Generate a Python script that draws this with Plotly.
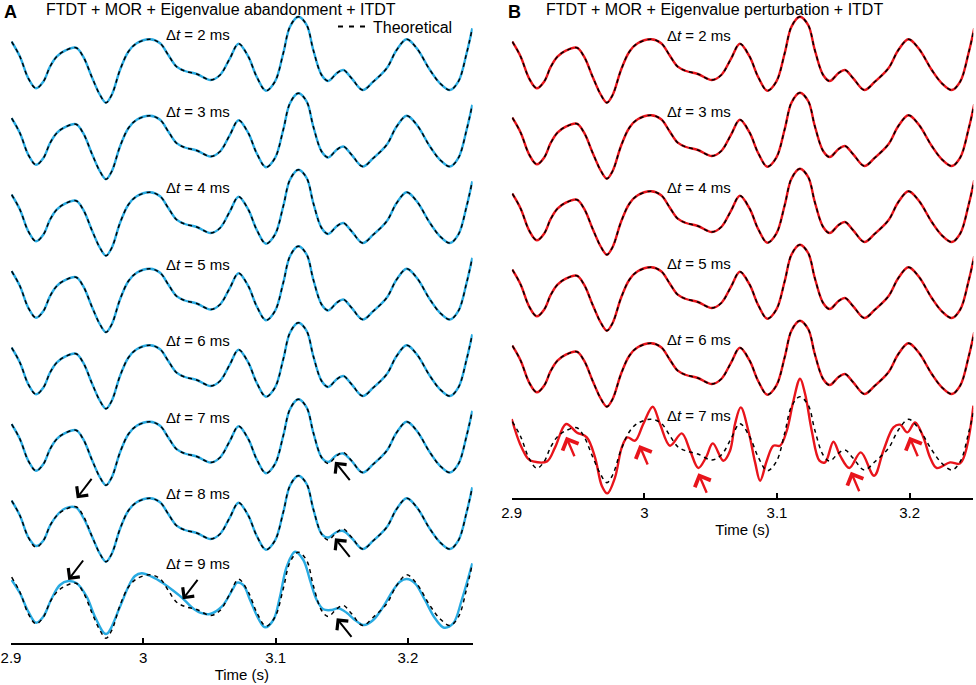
import plotly.graph_objects as go

# ---- data (time in s, signal in arbitrary units) ----
theo_t = [2.9005, 2.9068, 2.9131, 2.9189, 2.9244, 2.9295, 2.9345, 2.9408, 2.9491, 2.9546,
          2.9610, 2.9673, 2.9718, 2.9761, 2.9824, 2.9887, 2.9950, 3.0051, 3.0127, 3.0189,
          3.0252, 3.0315, 3.0404, 3.0509, 3.0580, 3.0655, 3.0720, 3.0794, 3.0857, 3.0927,
          3.0995, 3.1058, 3.1109, 3.1172, 3.1235, 3.1285, 3.1348, 3.1398, 3.1462, 3.1512,
          3.1575, 3.1658, 3.1738, 3.1840, 3.1915, 3.1991, 3.2067, 3.2167, 3.2243, 3.2318,
          3.2381, 3.2444, 3.2487]
theo_v = [1.83, 0.33, -1.83, -2.83, -2.17, -0.67, 0.33, 0.93, 1.23, 0.33,
          -1.67, -3.5, -4.27, -3.5, -1.0, 0.83, 1.67, 2.07, 1.67, 0.5,
          -0.67, -1.1, -1.4, -2.0, -1.5, 0.17, 1.63, 0.33, -1.67, -3.07,
          -2.17, 0.67, 3.33, 4.33, 3.5, 1.0, -1.5, -2.1, -1.33, -1.0,
          -1.83, -3.0, -2.17, -0.83, 1.0, 2.07, 1.17, -1.0, -2.33, -3.0,
          -2.17, 0.67, 3.17]

# eigenvalue abandonment, dt = 7 and 8 ms (same time grid as theoretical)
blue_7ms_v = [1.83, 0.33, -1.83, -2.83, -2.17, -0.67, 0.33, 0.93, 1.23, 0.33,
              -1.67, -3.5, -4.27, -3.5, -1.0, 0.83, 1.67, 2.07, 1.67, 0.5,
              -0.67, -1.1, -1.4, -2.0, -1.5, 0.17, 1.63, 0.33, -1.67, -3.07,
              -2.17, 0.67, 3.33, 4.33, 3.5, 1.0, -1.5, -1.95, -1.25, -1.1,
              -1.85, -3.0, -2.17, -0.83, 1.0, 2.07, 1.17, -1.0, -2.33, -3.0,
              -2.17, 0.67, 3.17]
blue_8ms_v = [1.83, 0.33, -1.83, -2.7, -2.17, -0.67, 0.33, 1.05, 1.15, 0.15,
              -1.67, -3.5, -4.27, -3.5, -1.0, 0.83, 1.67, 2.07, 1.67, 0.5,
              -0.67, -1.1, -1.4, -2.0, -1.5, 0.17, 1.63, 0.33, -1.67, -3.07,
              -2.17, 0.67, 3.33, 4.33, 3.5, 1.0, -1.5, -1.85, -1.3, -1.2,
              -1.9, -3.0, -2.17, -0.83, 1.0, 2.07, 1.17, -1.0, -2.33, -3.0,
              -2.17, 0.67, 3.17]

# eigenvalue abandonment, dt = 9 ms
blue_9ms_t = [2.9005, 2.9068, 2.9131, 2.9189, 2.9244, 2.9308, 2.9370, 2.9433, 2.9497, 2.9572,
              2.9635, 2.9718, 2.9824, 2.9887, 2.9937, 2.9988, 3.0064, 3.0151, 3.0227, 3.0298,
              3.0366, 3.0429, 3.0504, 3.0593, 3.0680, 3.0708, 3.0756, 3.0807, 3.0869, 3.0920,
              3.0983, 3.1033, 3.1084, 3.1147, 3.1210, 3.1260, 3.1311, 3.1361, 3.1424, 3.1474,
              3.1537, 3.1600, 3.1668, 3.1738, 3.1814, 3.1890, 3.1940, 3.1991, 3.2054, 3.2129,
              3.2205, 3.2273, 3.2343, 3.2407, 3.2487]
blue_9ms_v = [1.55, 0.22, -1.62, -2.72, -2.12, -0.28, 1.05, 1.45, 1.22, -0.12,
              -2.12, -3.85, -1.12, 0.88, 1.95, 2.22, 1.88, 1.22, 0.48, -0.28,
              -1.18, -1.72, -1.85, -1.12, 0.72, 1.28, 1.05, -0.45, -2.28, -3.18,
              -2.45, -0.12, 2.88, 4.38, 3.55, 1.55, -0.45, -1.38, -1.45, -1.28,
              -1.72, -2.45, -2.95, -2.45, -1.12, 0.55, 1.38, 1.65, 1.22, -0.45,
              -2.28, -3.22, -2.78, -0.45, 3.22]

# eigenvalue perturbation, dt = 7 ms
red_7ms_t = [2.9000, 2.9063, 2.9125, 2.9161, 2.9266, 2.9327, 2.9410, 2.9490, 2.9566, 2.9628,
             2.9679, 2.9721, 2.9779, 2.9830, 2.9872, 2.9930, 2.9992, 3.0063, 3.0118, 3.0194,
             3.0282, 3.0345, 3.0407, 3.0465, 3.0516, 3.0596, 3.0646, 3.0684, 3.0727, 3.0784,
             3.0835, 3.0873, 3.0923, 3.0973, 3.1023, 3.1074, 3.1124, 3.1174, 3.1212, 3.1262,
             3.1320, 3.1363, 3.1425, 3.1476, 3.1546, 3.1632, 3.1732, 3.1802, 3.1878, 3.1928,
             3.1983, 3.2041, 3.2104, 3.2154, 3.2205, 3.2305, 3.2381, 3.2481]
red_7ms_v = [2.1, -0.4, -1.9, -2.14, -2.14, -0.74, 1.6, 0.76, 0.26, -1.74,
             -4.57, -5.34, -3.74, -0.74, 0.26, -0.07, 1.6, 3.33, 1.6, -0.57,
             0.66, -1.07, -2.8, -1.74, -0.34, -2.07, -1.07, 1.63, 3.26, 0.93,
             -2.24, -4.07, -2.07, -0.57, -0.57, 0.93, 3.93, 6.13, 4.6, 0.93,
             -2.07, -2.24, -0.17, -1.57, -2.8, -1.24, -3.57, -1.07, 1.26, 1.53,
             0.76, 1.76, 0.26, -1.74, -2.8, -2.24, -2.34, 3.43]

dt_a = [2, 3, 4, 5, 6, 7, 8, 9]
dt_b = [2, 3, 4, 5, 6, 7]
tick_vals = [2.9, 3.0, 3.1, 3.2]
tick_text = ['2.9', '3', '3.1', '3.2']

# arrows: (time, row, value relative to that row, tail below tip?)
arrows_a = [(3.1449, 5, -1.92, True), (2.9497, 6, 2.07, False), (3.1449, 6, -1.93, True),
            (2.9433, 7, 1.55, False), (3.0298, 7, -0.38, False), (3.1462, 7, -2.28, True)]
arrows_b = [(2.9410, 5, 0.33), (2.9962, 5, -0.5), (3.0407, 5, -3.33),
            (3.1557, 5, -3.17), (3.1998, 5, 0.33)]

# ---- styling ----
FONT = 'Liberation Sans, Arial, sans-serif'
BLUE = '#29ABE2'
RED = '#E8141B'
GAP_A = 7.65
GAP_B = 7.6
W, H = 976, 685


def px_x(px):
    return px / W


def px_y(py):
    return 1 - py / H


fig = go.Figure()

# panel A
solid_a = [(theo_t, theo_v)] * 5 + [(theo_t, blue_7ms_v), (theo_t, blue_8ms_v), (blue_9ms_t, blue_9ms_v)]
for i, (tt, vv) in enumerate(solid_a):
    fig.add_trace(go.Scatter(x=tt, y=[v - i * GAP_A for v in vv], mode='lines',
                             line=dict(color=BLUE, width=2.4, shape='spline'),
                             showlegend=False, xaxis='x', yaxis='y'))
for i in range(len(dt_a)):
    fig.add_trace(go.Scatter(x=theo_t, y=[v - i * GAP_A for v in theo_v], mode='lines',
                             line=dict(color='black', width=1.5, dash='4px,4px', shape='spline'),
                             showlegend=False, xaxis='x', yaxis='y'))

# panel B
solid_b = [(theo_t, theo_v)] * 5 + [(red_7ms_t, red_7ms_v)]
for i, (tt, vv) in enumerate(solid_b):
    fig.add_trace(go.Scatter(x=tt, y=[v - i * GAP_B for v in vv], mode='lines',
                             line=dict(color=RED, width=2.4, shape='spline'),
                             showlegend=False, xaxis='x2', yaxis='y2'))
for i in range(len(dt_b)):
    fig.add_trace(go.Scatter(x=theo_t, y=[v - i * GAP_B for v in theo_v], mode='lines',
                             line=dict(color='black', width=1.5, dash='4px,4px', shape='spline'),
                             showlegend=False, xaxis='x2', yaxis='y2'))

# legend entry
fig.add_trace(go.Scatter(x=[None], y=[None], mode='lines', name='Theoretical',
                         line=dict(color='black', width=2, dash='5px,6px'),
                         xaxis='x', yaxis='y'))

ann = []
for i, d in enumerate(dt_a):
    lift = 0.7 if d == 9 else 0
    ann.append(dict(x=3.041, y=2.55 - i * GAP_A + lift, xref='x', yref='y',
                    text='Δ<i>t</i> = %d ms' % d, showarrow=False,
                    xanchor='center', yanchor='middle',
                    font=dict(family=FONT, size=15, color='black')))
for i, d in enumerate(dt_b):
    ann.append(dict(x=3.041, y=2.45 - i * GAP_B, xref='x2', yref='y2',
                    text='Δ<i>t</i> = %d ms' % d, showarrow=False,
                    xanchor='center', yanchor='middle',
                    font=dict(family=FONT, size=15, color='black')))

for t, r, v, below in arrows_a:
    ann.append(dict(x=t, y=v - r * GAP_A, xref='x', yref='y', text='', showarrow=True,
                    ax=16, ay=20 if below else -21, arrowhead=4, arrowsize=1.4,
                    arrowwidth=2, arrowcolor='black', standoff=0))
for t, r, v in arrows_b:
    ann.append(dict(x=t, y=v - r * GAP_B, xref='x2', yref='y2', text='', showarrow=True,
                    ax=9, ay=21, arrowhead=4, arrowsize=1.4,
                    arrowwidth=2.4, arrowcolor=RED, standoff=0))

for px, py, txt, size in [(10, 12, '<b>A</b>', 18), (514, 12, '<b>B</b>', 18),
                          (221, 9, 'FTDT + MOR + Eigenvalue abandonment + ITDT', 16),
                          (714, 9, 'FTDT + MOR + Eigenvalue perturbation + ITDT', 16)]:
    ann.append(dict(x=px_x(px), y=px_y(py), xref='paper', yref='paper', text=txt,
                    showarrow=False, xanchor='center', yanchor='middle',
                    font=dict(family=FONT, size=size, color='black')))

xax = dict(showline=True, linecolor='black', linewidth=1.5, ticks='inside', ticklen=6,
           tickwidth=1.5, tickcolor='black', tickvals=tick_vals, ticktext=tick_text,
           showgrid=False, zeroline=False, automargin=False,
           tickfont=dict(family=FONT, size=15, color='black'),
           title=dict(text='Time (s)', font=dict(family=FONT, size=15, color='black'), standoff=2))
yax = dict(visible=False, showgrid=False, zeroline=False, automargin=False)

fig.update_layout(
    width=W, height=H, margin=dict(l=0, r=0, t=0, b=0, autoexpand=False),
    paper_bgcolor='white', plot_bgcolor='white',
    xaxis=dict(xax, domain=[px_x(11), px_x(472.7)], range=[2.9, 3.249], anchor='y'),
    yaxis=dict(yax, domain=[px_y(643.3), 1], range=[-58.33, 6]),
    xaxis2=dict(xax, domain=[px_x(511.7), px_x(973.3)], range=[2.9, 3.248], anchor='y2'),
    yaxis2=dict(yax, domain=[px_y(498.3), 1], range=[-43.83, 6]),
    legend=dict(x=px_x(458), xanchor='right', y=px_y(26.7), yanchor='middle',
                bgcolor='rgba(0,0,0,0)', font=dict(family=FONT, size=16, color='black')),
    annotations=ann,
)

# the page's default body margin would shift the figure by 8 px
fig.write_html("out.html", config={'displayModeBar': False},
               post_script="document.body.style.margin = '0px';")
